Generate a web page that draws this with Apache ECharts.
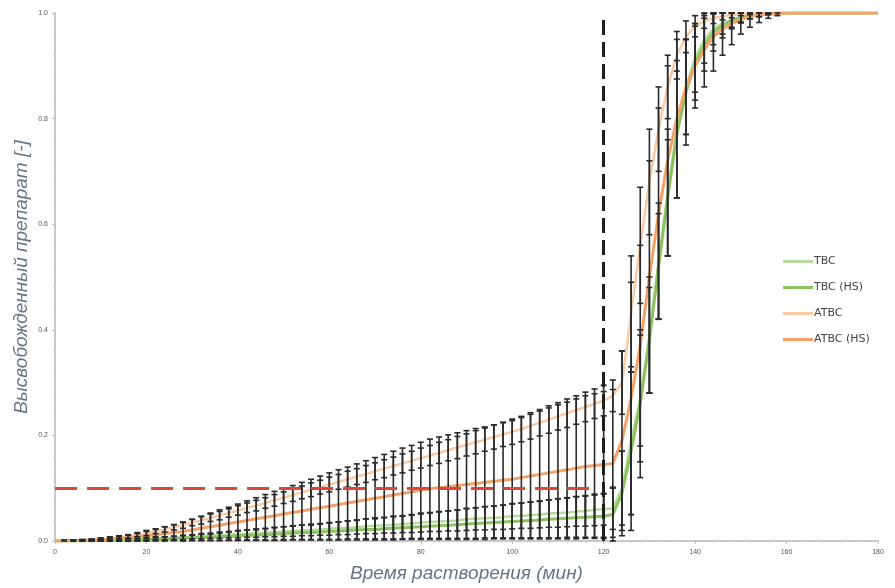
<!DOCTYPE html>
<html>
<head>
<meta charset="utf-8">
<script src="https://cdn.jsdelivr.net/npm/echarts@6/dist/echarts.min.js"></script>
<style>
  html, body { margin: 0; padding: 0; background: #fff; }
  #grafico { width: 895px; height: 588px; }
</style>
</head>
<body>
<div id="grafico"></div>
<script>
// время, мин (шаг 2 мин до 160, дальше 170 и 180)
const tiempos = [
  0, 2, 4, 6, 8, 10, 12, 14, 16, 18,
  20, 22, 24, 26, 28, 30, 32, 34, 36, 38,
  40, 42, 44, 46, 48, 50, 52, 54, 56, 58,
  60, 62, 64, 66, 68, 70, 72, 74, 76, 78,
  80, 82, 84, 86, 88, 90, 92, 94, 96, 98,
  100, 102, 104, 106, 108, 110, 112, 114, 116, 118,
  120, 122, 124, 126, 128, 130, 132, 134, 136, 138,
  140, 142, 144, 146, 148, 150, 152, 154, 156, 158,
  160, 170, 180
];

const tbc = [
  0, 0, 0, 0.001, 0.001, 0.001, 0.002, 0.002, 0.003, 0.003,
  0.004, 0.005, 0.005, 0.006, 0.007, 0.008, 0.009, 0.01, 0.011, 0.012,
  0.013, 0.014, 0.015, 0.016, 0.017, 0.018, 0.019, 0.02, 0.021, 0.022,
  0.023, 0.024, 0.025, 0.026, 0.028, 0.029, 0.03, 0.031, 0.032, 0.033,
  0.035, 0.036, 0.037, 0.038, 0.039, 0.041, 0.042, 0.043, 0.044, 0.045,
  0.047, 0.048, 0.049, 0.05, 0.052, 0.053, 0.054, 0.056, 0.057, 0.059,
  0.06, 0.062, 0.1, 0.19, 0.27, 0.39, 0.53, 0.66, 0.78, 0.86,
  0.915, 0.95, 0.97, 0.98, 0.987, 0.992, 0.995, 0.997, 0.999, 1,
  1, 1, 1
];
const tbcSd = [
  0, 0, 0, 0.001, 0.001, 0.001, 0.001, 0.001, 0.002, 0.002,
  0.002, 0.003, 0.003, 0.003, 0.004, 0.004, 0.005, 0.005, 0.006, 0.006,
  0.007, 0.007, 0.008, 0.008, 0.009, 0.009, 0.01, 0.01, 0.011, 0.011,
  0.012, 0.012, 0.013, 0.013, 0.014, 0.015, 0.015, 0.016, 0.016, 0.017,
  0.018, 0.018, 0.019, 0.019, 0.02, 0.021, 0.021, 0.022, 0.022, 0.023,
  0.024, 0.024, 0.025, 0.025, 0.026, 0.027, 0.027, 0.028, 0.029, 0.03,
  0.03, 0.04, 0.07, 0.14, 0.12, 0.11, 0.11, 0.12, 0.13, 0.09,
  0.065, 0.045, 0.03, 0.02, 0.014, 0.009, 0.006, 0.004, 0.002, 0,
  0, 0, 0
];

const tbcHs = [
  0, 0, 0, 0, 0.001, 0.001, 0.001, 0.002, 0.002, 0.002,
  0.003, 0.003, 0.004, 0.005, 0.005, 0.006, 0.007, 0.007, 0.008, 0.009,
  0.01, 0.011, 0.011, 0.012, 0.013, 0.014, 0.015, 0.016, 0.016, 0.017,
  0.018, 0.019, 0.02, 0.021, 0.022, 0.022, 0.023, 0.024, 0.025, 0.026,
  0.027, 0.028, 0.029, 0.03, 0.031, 0.032, 0.033, 0.034, 0.035, 0.036,
  0.037, 0.038, 0.039, 0.04, 0.041, 0.042, 0.043, 0.044, 0.045, 0.046,
  0.047, 0.05, 0.09, 0.17, 0.26, 0.38, 0.52, 0.65, 0.77, 0.85,
  0.905, 0.94, 0.963, 0.977, 0.986, 0.991, 0.995, 0.997, 0.999, 1,
  1, 1, 1
];
const tbcHsSd = [
  0, 0, 0, 0, 0.001, 0.001, 0.001, 0.002, 0.002, 0.002,
  0.003, 0.003, 0.004, 0.004, 0.005, 0.005, 0.006, 0.006, 0.007, 0.008,
  0.009, 0.01, 0.01, 0.011, 0.012, 0.013, 0.013, 0.014, 0.014, 0.015,
  0.016, 0.017, 0.018, 0.019, 0.02, 0.02, 0.021, 0.022, 0.022, 0.023,
  0.024, 0.025, 0.026, 0.027, 0.028, 0.029, 0.03, 0.031, 0.031, 0.032,
  0.033, 0.034, 0.035, 0.036, 0.037, 0.038, 0.039, 0.04, 0.04, 0.041,
  0.042, 0.05, 0.08, 0.15, 0.14, 0.1, 0.1, 0.11, 0.12, 0.1,
  0.07, 0.05, 0.035, 0.024, 0.016, 0.01, 0.006, 0.004, 0.002, 0,
  0, 0, 0
];

const atbc = [
  0, 0.001, 0.001, 0.002, 0.002, 0.003, 0.004, 0.006, 0.008, 0.011,
  0.014, 0.018, 0.022, 0.026, 0.03, 0.035, 0.039, 0.044, 0.048, 0.053,
  0.058, 0.063, 0.067, 0.072, 0.077, 0.082, 0.087, 0.092, 0.097, 0.102,
  0.107, 0.112, 0.117, 0.122, 0.127, 0.132, 0.137, 0.142, 0.147, 0.152,
  0.157, 0.162, 0.167, 0.172, 0.177, 0.182, 0.187, 0.192, 0.197, 0.202,
  0.207, 0.212, 0.218, 0.224, 0.23, 0.236, 0.242, 0.248, 0.254, 0.26,
  0.266, 0.275, 0.3, 0.43, 0.56, 0.68, 0.78, 0.86, 0.92, 0.955,
  0.975, 0.985, 0.99, 0.994, 0.996, 0.998, 0.999, 1, 1, 1,
  1, 1, 1
];
const atbcSd = [
  0, 0.001, 0.001, 0.001, 0.001, 0.002, 0.002, 0.002, 0.003, 0.003,
  0.004, 0.004, 0.005, 0.005, 0.006, 0.006, 0.007, 0.007, 0.008, 0.008,
  0.009, 0.009, 0.01, 0.01, 0.011, 0.011, 0.012, 0.012, 0.013, 0.013,
  0.014, 0.014, 0.015, 0.015, 0.016, 0.016, 0.017, 0.017, 0.018, 0.018,
  0.019, 0.019, 0.02, 0.02, 0.021, 0.021, 0.022, 0.022, 0.023, 0.023,
  0.024, 0.024, 0.025, 0.025, 0.026, 0.026, 0.027, 0.027, 0.028, 0.028,
  0.029, 0.03, 0.06, 0.11, 0.11, 0.1, 0.08, 0.06, 0.045, 0.03,
  0.02, 0.014, 0.01, 0.007, 0.005, 0.003, 0.002, 0, 0, 0,
  0, 0, 0
];

const atbcHs = [
  0, 0, 0.001, 0.001, 0.002, 0.003, 0.004, 0.005, 0.006, 0.008,
  0.01, 0.012, 0.014, 0.016, 0.018, 0.021, 0.024, 0.027, 0.03, 0.033,
  0.036, 0.039, 0.042, 0.045, 0.048, 0.051, 0.054, 0.057, 0.06, 0.063,
  0.066, 0.069, 0.072, 0.075, 0.078, 0.081, 0.084, 0.087, 0.09, 0.093,
  0.096, 0.099, 0.101, 0.103, 0.105, 0.107, 0.109, 0.111, 0.113, 0.115,
  0.117, 0.12, 0.123, 0.126, 0.129, 0.132, 0.135, 0.138, 0.141, 0.143,
  0.145, 0.147, 0.19, 0.27, 0.37, 0.5, 0.62, 0.72, 0.8, 0.86,
  0.9, 0.93, 0.955, 0.97, 0.98, 0.988, 0.993, 0.996, 0.998, 0.999,
  1, 1, 1
];
const atbcHsSd = [
  0, 0, 0.001, 0.001, 0.002, 0.003, 0.004, 0.005, 0.006, 0.008,
  0.01, 0.011, 0.013, 0.015, 0.017, 0.02, 0.023, 0.026, 0.029, 0.031,
  0.034, 0.037, 0.04, 0.043, 0.046, 0.048, 0.051, 0.054, 0.057, 0.06,
  0.063, 0.066, 0.068, 0.071, 0.074, 0.077, 0.08, 0.083, 0.086, 0.088,
  0.091, 0.094, 0.096, 0.098, 0.1, 0.102, 0.104, 0.105, 0.107, 0.109,
  0.111, 0.114, 0.117, 0.12, 0.123, 0.126, 0.128, 0.131, 0.134, 0.136,
  0.138, 0.14, 0.17, 0.22, 0.19, 0.22, 0.2, 0.18, 0.15, 0.09,
  0.08, 0.07, 0.065, 0.05, 0.04, 0.028, 0.02, 0.014, 0.008, 0.004,
  0, 0, 0
];

const nombres = ["TBC", "TBC (HS)", "ATBC", "ATBC (HS)"];
const colores = ["#b8dba0", "#8cc260", "#f9caa6", "#f3a36a"];
const grosores = [2.5, 3, 2.5, 3];

// линии отсечки
const umbral = 0.1;       // 10 % высвобождения
const cambioMedio = 120;  // смена среды, мин

const medias = [tbc, tbcHs, atbc, atbcHs];
const desvios = [tbcSd, tbcHsSd, atbcSd, atbcHsSd];

function pares(valores) {
  return tiempos.map(function (t, i) { return [t, valores[i]]; });
}

// [t, низ, верх] для всех усов
const barrasError = [];
medias.forEach(function (serie, s) {
  serie.forEach(function (m, i) {
    const sd = desvios[s][i];
    if (sd > 0) {
      barrasError.push([tiempos[i], Math.max(0, m - sd), Math.min(1, m + sd)]);
    }
  });
});

function dibujarBarra(params, api) {
  const arriba = api.coord([api.value(0), api.value(2)]);
  const abajo = api.coord([api.value(0), api.value(1)]);
  const w = 3;
  const estilo = { stroke: "#2a2a2a", lineWidth: 1.6 };
  return {
    type: "group",
    children: [
      { type: "line", shape: { x1: arriba[0], y1: arriba[1], x2: abajo[0], y2: abajo[1] }, style: estilo },
      { type: "line", shape: { x1: arriba[0] - w, y1: arriba[1], x2: arriba[0] + w, y2: arriba[1] }, style: estilo },
      { type: "line", shape: { x1: abajo[0] - w, y1: abajo[1], x2: abajo[0] + w, y2: abajo[1] }, style: estilo }
    ]
  };
}

const seriesLineas = nombres.map(function (n, s) {
  return {
    name: n,
    type: "line",
    data: pares(medias[s]),
    showSymbol: false,
    symbol: "none",
    lineStyle: { color: colores[s], width: grosores[s] },
    itemStyle: { color: colores[s] },
    z: 3
  };
});

const grafico = echarts.init(document.getElementById("grafico"), null, { renderer: "canvas" });
grafico.setOption({
  animation: false,
  backgroundColor: "#fff",
  grid: { left: 55, right: 17, top: 13, bottom: 47 },
  legend: {
    data: nombres,
    orient: "vertical",
    left: 778,
    top: 251,
    icon: "rect",
    itemWidth: 30,
    itemHeight: 3,
    itemGap: 15,
    textStyle: { fontFamily: "DejaVu Sans", fontSize: 11, color: "#444", padding: [0, 0, 0, -4] }
  },
  xAxis: {
    type: "value",
    min: 0,
    max: 180,
    interval: 20,
    name: "Время растворения (мин)",
    nameLocation: "middle",
    nameGap: 23,
    nameTextStyle: { fontFamily: "Liberation Sans", fontStyle: "italic", fontSize: 19, color: "#667585" },
    axisLine: { lineStyle: { color: "#c8c8c8", width: 2 } },
    axisTick: { show: true, length: 3, lineStyle: { color: "#bdbdbd" } },
    minorTick: { show: true, splitNumber: 5, length: 2, lineStyle: { color: "#cfcfcf" } },
    axisLabel: { fontSize: 7, color: "#555", margin: 8 },
    splitLine: { show: false }
  },
  yAxis: {
    type: "value",
    min: 0,
    max: 1,
    interval: 0.2,
    name: "Высвобожденный препарат [-]",
    nameLocation: "middle",
    nameGap: 24,
    nameMoveOverlap: false,
    nameTextStyle: { fontFamily: "Liberation Sans", fontStyle: "italic", fontSize: 19, color: "#667585" },
    axisLine: { show: true, lineStyle: { color: "#c8c8c8", width: 2 } },
    axisTick: { show: true, length: 3, lineStyle: { color: "#bdbdbd" } },
    minorTick: { show: true, splitNumber: 5, length: 2, lineStyle: { color: "#cfcfcf" } },
    axisLabel: { fontSize: 7, color: "#555", margin: 7, formatter: function (v) { return v.toFixed(1); } },
    splitLine: { show: false }
  },
  series: seriesLineas.concat([
    {
      name: "barras",
      type: "custom",
      renderItem: dibujarBarra,
      data: barrasError,
      encode: { x: 0, y: [1, 2] },
      z: 4,
      silent: true
    },
    {
      name: "referencias",
      type: "line",
      data: [],
      silent: true,
      markLine: {
        silent: true,
        symbol: "none",
        label: { show: false },
        data: [
          [
            { coord: [0, umbral], lineStyle: { color: "#e0453b", width: 3, type: [22, 10] } },
            { coord: [cambioMedio - 1, umbral] }
          ],
          [
            { coord: [cambioMedio, 0], lineStyle: { color: "#1e1e1e", width: 3, type: [15, 7] } },
            { coord: [cambioMedio, 1] }
          ]
        ]
      },
      z: 2
    }
  ])
});
</script>
</body>
</html>
